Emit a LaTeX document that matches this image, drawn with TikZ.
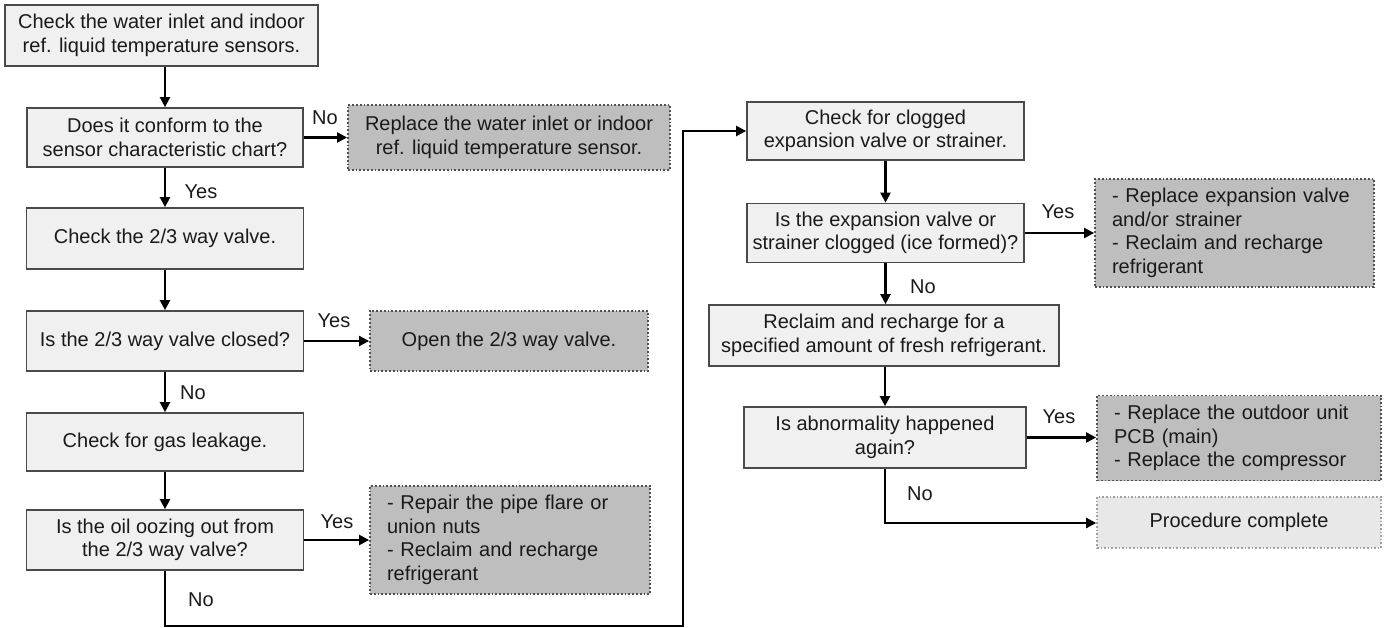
\documentclass[tikz,border=0pt]{standalone}
\usepackage{fontspec}
\setmainfont{Liberation Sans}
\usetikzlibrary{arrows.meta}
\definecolor{boxfill}{HTML}{F0F0F0}
\definecolor{boxline}{HTML}{4A4A4A}
\definecolor{dotline}{HTML}{505050}
\definecolor{darkfill}{HTML}{BEBEBE}
\definecolor{endfill}{HTML}{E8E8E8}
\definecolor{endline}{HTML}{A0A0A0}
\definecolor{txt}{HTML}{1A1A1A}
\tikzset{
  every node/.style={font=\fontsize{20}{23.5}\selectfont, text=txt},
  proc/.style={draw=boxline, line width=1.7pt, fill=boxfill, align=center, inner sep=0pt},
  act/.style={draw=dotline, line width=1.8pt, dotted, fill=darkfill, align=left, inner sep=0pt},
  fin/.style={draw=endline, line width=1.6pt, dotted, fill=endfill, align=center, inner sep=0pt},
  arr/.style={draw=black, line width=2.2pt, -{Triangle[length=10pt,width=10pt]}},
  lbl/.style={inner sep=0pt}
}
\begin{document}
\begin{tikzpicture}[x=1pt,y=-1pt]
\useasboundingbox (0,0) rectangle (1385,627);
% left column
\node[proc, minimum width=313pt, minimum height=61pt] (b1) at (161.5,35.5) {Check the water inlet and indoor\\ref. liquid temperature sensors.};
\node[proc, minimum width=276pt, minimum height=59pt] (b2) at (165,137.5) {Does it conform to the\\sensor characteristic chart?};
\node[act, minimum width=322pt, minimum height=65pt, align=center] (r1) at (509,137.5) {Replace the water inlet or indoor\\ref. liquid temperature sensor.};
\node[proc, minimum width=277pt, minimum height=61pt] (b3) at (165,238.5) {Check the 2/3 way valve.};
\node[proc, minimum width=277pt, minimum height=60pt] (b4) at (165,341) {Is the 2/3 way valve closed?};
\node[act, minimum width=278pt, minimum height=60pt, align=center] (r2) at (509,341) {Open the 2/3 way valve.};
\node[proc, minimum width=277pt, minimum height=58pt] (b5) at (165,442) {Check for gas leakage.};
\node[proc, minimum width=277pt, minimum height=60pt] (b6) at (165,540) {Is the oil oozing out from\\the 2/3 way valve?};
\node[act, minimum width=280pt, minimum height=108pt, text width=246pt] (r3) at (510,540) {- Repair the pipe flare or\\union nuts\\- Reclaim and recharge\\refrigerant};
% right column
\node[proc, minimum width=277pt, minimum height=58pt] (c1) at (885.5,131) {Check for clogged\\expansion valve or strainer.};
\node[proc, minimum width=277pt, minimum height=59pt] (c2) at (885.5,233) {Is the expansion valve or\\strainer clogged (ice formed)?};
\node[act, minimum width=279pt, minimum height=108pt, text width=245pt] (r4) at (1234.5,233) {- Replace expansion valve\\and/or strainer\\- Reclaim and recharge\\refrigerant};
\node[proc, minimum width=350pt, minimum height=61pt] (c3) at (884,335.5) {Reclaim and recharge for a\\specified amount of fresh refrigerant.};
\node[proc, minimum width=282pt, minimum height=61pt] (c4) at (885,437.5) {Is abnormality happened\\again?};
\node[act, minimum width=284pt, minimum height=85pt, text width=250pt] (r5) at (1239,438) {- Replace the outdoor unit\\PCB (main)\\- Replace the compressor};
\node[fin, minimum width=284pt, minimum height=51pt] (p) at (1239,522.5) {Procedure complete};
% labels
\node[lbl] (l1) at (325,118) {No};
\node[lbl] (l2) at (201,192) {Yes};
\node[lbl] (l3) at (334,321) {Yes};
\node[lbl] (l4) at (193,393) {No};
\node[lbl] (l5) at (337,522) {Yes};
\node[lbl] (l6) at (201,600) {No};
\node[lbl] (l7) at (1058,212) {Yes};
\node[lbl] (l8) at (923,287) {No};
\node[lbl] (l9) at (1059,417) {Yes};
\node[lbl] (l10) at (920,494) {No};
% coordinates for loop
\coordinate (k1) at (165,626);
\coordinate (k2) at (683,626);
\coordinate (k3) at (683,131);
\coordinate (k4) at (885,523);
% connectors
\draw[arr] (b1.south -| b2.north) -- (b2.north);
\draw[arr] (b2) -- (r1);
\draw[arr] (b2) -- (b3);
\draw[arr] (b3) -- (b4);
\draw[arr] (b4) -- (r2);
\draw[arr] (b4) -- (b5);
\draw[arr] (b5) -- (b6);
\draw[arr] (b6) -- (r3);
\draw[arr] (b6.south) -- (k1) -- (k2) -- (k3) -- (c1.west);
\draw[arr] (c1) -- (c2);
\draw[arr] (c2) -- (r4);
\draw[arr] (c2.south) -- (c2.south |- c3.north);
\draw[arr] (c3.south -| c4.north) -- (c4.north);
\draw[arr] (c4.east) -- (c4.east -| r5.west);
\draw[arr] (c4.south) -- (k4) -- (k4 -| p.west);
\end{tikzpicture}
\end{document}
